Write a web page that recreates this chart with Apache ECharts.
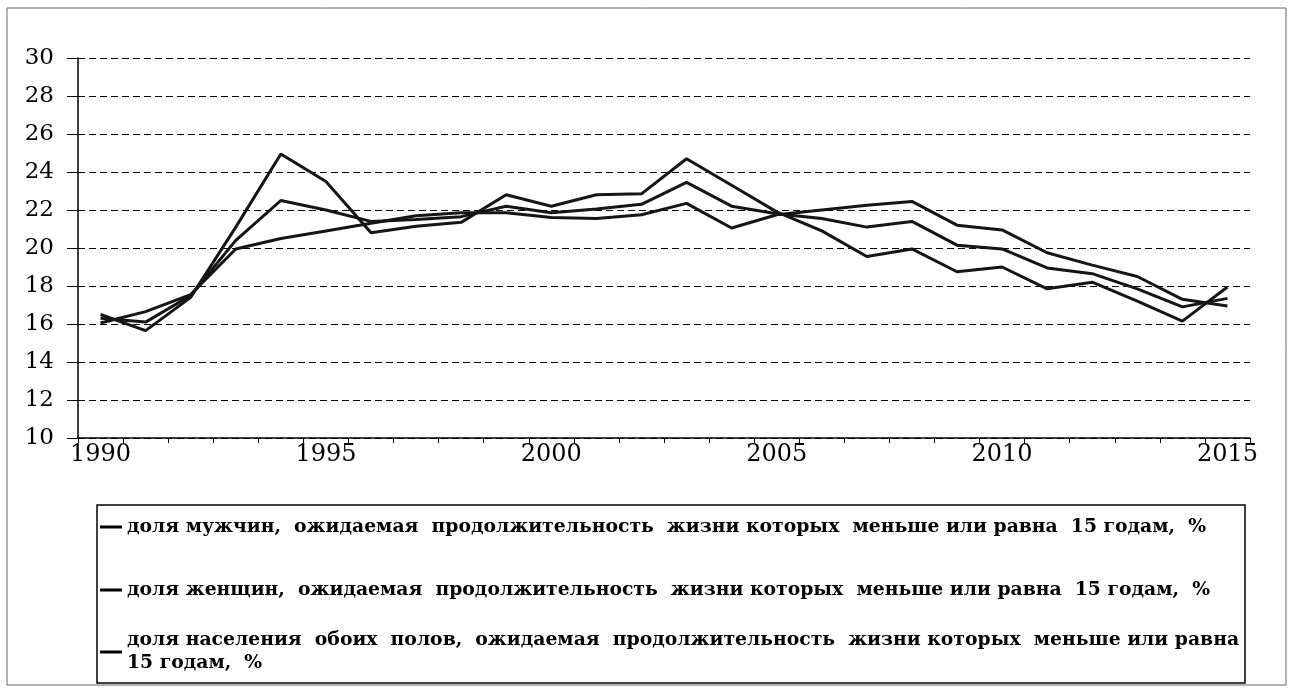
<!DOCTYPE html>
<html>
<head>
<meta charset="utf-8">
<script src="https://cdn.jsdelivr.net/npm/echarts@6/dist/echarts.min.js"></script>
<style>
html,body{margin:0;padding:0;background:#fff;}
#chart{width:1292px;height:691px;}
</style>
</head>
<body>
<div id="chart"></div>
<script>
const years = ['1990','1991','1992','1993','1994','1995','1996','1997','1998','1999','2000','2001','2002','2003','2004','2005','2006','2007','2008','2009','2010','2011','2012','2013','2014','2015'];
const men = [16.5,15.65,17.4,21.1,24.95,23.5,20.8,21.15,21.35,22.8,22.2,22.8,22.85,24.7,23.3,21.9,20.9,19.55,19.95,18.75,19.0,17.85,18.2,17.2,16.15,17.95];
const women = [16.05,16.65,17.55,19.95,20.5,20.9,21.3,21.7,21.85,21.85,21.6,21.55,21.75,22.35,21.05,21.75,22.0,22.25,22.45,21.2,20.95,19.75,19.1,18.5,17.3,16.95];
const both = [16.3,16.1,17.5,20.4,22.5,22.0,21.4,21.5,21.65,22.2,21.85,22.05,22.3,23.45,22.2,21.8,21.55,21.1,21.4,20.15,19.95,18.95,18.65,17.85,16.9,17.35];
const yTicks = {min:10, max:30, interval:2};
const names = [
  'доля мужчин,  ожидаемая  продолжительность  жизни которых  меньше или равна  15 годам,  %',
  'доля женщин,  ожидаемая  продолжительность  жизни которых  меньше или равна  15 годам,  %',
  'доля населения  обоих  полов,  ожидаемая  продолжительность  жизни которых  меньше или равна\n15 годам,  %'
];

const chart = echarts.init(document.getElementById('chart'));
const lineColor = '#151515';
const legendText = {fontFamily:'DejaVu Serif', fontSize:18.8, fontWeight:'bold', color:'#000', lineHeight:23};
function mkLegend(name, top, extra){
  return Object.assign({
    data:[name], left:100, top:top, padding:0, orient:'vertical',
    icon:'rect', itemWidth:22, itemHeight:3, selectedMode:false,
    itemStyle:{color:'#000'},
    textStyle:Object.assign({}, legendText)
  }, extra||{});
}
chart.setOption({
  backgroundColor:'#fff',
  animation:false,
  graphic:[
    {type:'rect', shape:{x:7,y:8,width:1279,height:677}, style:{fill:'none', stroke:'#666', lineWidth:1}, silent:true},
    {type:'rect', shape:{x:97,y:505,width:1148,height:178}, style:{fill:'none', stroke:'#000', lineWidth:1.5}, silent:true}
  ],
  legend:[
    mkLegend(names[0], 515.5),
    mkLegend(names[1], 578.5),
    mkLegend(names[2], 617.5, {textStyle:Object.assign({}, legendText, {padding:[23,0,0,0]})})
  ],
  grid:{left:78, right:42, top:58, bottom:253, containLabel:false},
  xAxis:{
    type:'category', data:years, boundaryGap:true,
    axisLine:{show:true, lineStyle:{color:'#000', width:1.5}},
    axisTick:{show:true, interval:0, length:5, lineStyle:{color:'#000'}},
    axisLabel:{interval:4, fontFamily:'DejaVu Serif', fontSize:24, color:'#000', margin:5},
    splitLine:{show:false}
  },
  yAxis:{
    type:'value', min:yTicks.min, max:yTicks.max, interval:yTicks.interval,
    axisLine:{show:true, lineStyle:{color:'#000', width:1.5}},
    axisTick:{show:true, length:11, lineStyle:{color:'#000'}},
    axisLabel:{fontFamily:'DejaVu Serif', fontSize:23, color:'#000', margin:24},
    splitLine:{show:true, lineStyle:{color:'#000', width:1, type:[7,4]}}
  },
  series:[
    {name:names[0], type:'line', data:men, symbol:'none', lineStyle:{color:lineColor, width:3}, itemStyle:{color:lineColor}},
    {name:names[1], type:'line', data:women, symbol:'none', lineStyle:{color:lineColor, width:3}, itemStyle:{color:lineColor}},
    {name:names[2], type:'line', data:both, symbol:'none', lineStyle:{color:lineColor, width:3}, itemStyle:{color:lineColor}}
  ]
});
</script>
</body>
</html>
